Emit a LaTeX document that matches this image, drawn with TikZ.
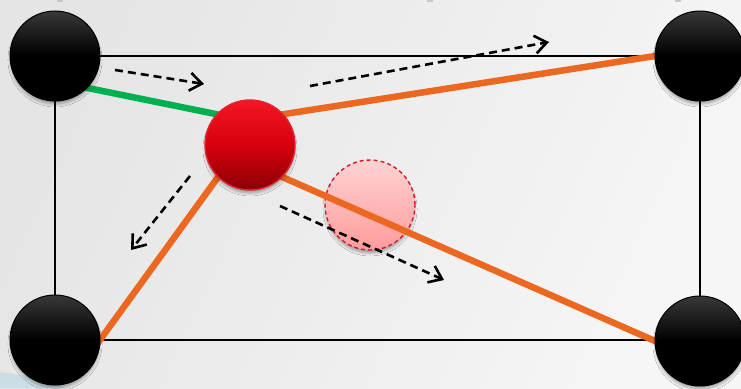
\documentclass[tikz,border=0pt]{standalone}
\usetikzlibrary{arrows.meta,shadows.blur}
\definecolor{orangeline}{RGB}{236,104,32}
\definecolor{greenline}{RGB}{0,176,80}
\definecolor{redtop}{RGB}{244,22,38}
\definecolor{redmid}{RGB}{214,0,12}
\definecolor{redbot}{RGB}{138,0,6}
\definecolor{redrim}{RGB}{226,34,48}
\definecolor{pinktop}{RGB}{255,210,210}
\definecolor{pinkbot}{RGB}{255,156,156}
\definecolor{pinkrim}{RGB}{208,28,44}
\definecolor{bgdark}{RGB}{229,229,229}
\definecolor{bglight}{RGB}{246,246,246}
\definecolor{smudge}{RGB}{200,222,230}
\begin{document}
\begin{tikzpicture}[x=1pt,y=-1pt,
  spot/.style={circle, minimum size=90pt, inner sep=0pt, outer sep=0pt},
  ball/.style={spot,
    blur shadow={shadow xshift=0pt, shadow yshift=-4pt, shadow blur radius=3pt, shadow opacity=35, shadow scale=0.98}},
  blackball/.style={ball, draw=black, line width=1pt, top color=black!78, bottom color=black, middle color=black},
  redball/.style={ball, draw=redrim, line width=1.4pt, top color=redtop, bottom color=redbot, middle color=redmid},
  ghostball/.style={ball, draw=pinkrim, line width=1.4pt, dash pattern=on 4pt off 3pt, top color=pinktop, bottom color=pinkbot},
  frame/.style={draw=black, line width=2pt},
  tie/.style={line width=6.5pt, shorten <=-5pt, shorten >=-5pt},
  move/.style={draw=black, line width=2.6pt, dash pattern=on 8pt off 5pt,
    -{Straight Barb[length=12pt,width=18pt,line width=2.6pt]}},
  tick/.style={fill=black!22, draw=none}
]
\useasboundingbox (0,0) rectangle (741,388);
\shade[left color=bgdark, right color=bglight, shading angle=65] (0,0) rectangle (741,388);
\fill[smudge, opacity=0.9] (0,372) .. controls (25,375) and (48,381) .. (66,388) -- (0,388) -- cycle;
\fill[tick] (57,0) rectangle (63,2);
\fill[tick] (427,0) rectangle (433,2);
\fill[tick] (675,0) rectangle (681,2);
\draw[frame] (55,56) rectangle (700,340);
\node[ghostball] (ghost) at (370,205) {};
% positions of the balls (drawn on top afterwards)
\node[spot] (tl) at (55,56) {};
\node[spot] (tr) at (700,56) {};
\node[spot] (bl) at (55,340) {};
\node[spot] (br) at (700,341) {};
\node[spot] (red) at (250,145) {};
\draw[tie, greenline] (tl.-45) -- (red.137);
\draw[tie, orangeline] (red.43) -- (tr.180);
\draw[tie, orangeline] (red.225) -- (bl.0);
\draw[tie, orangeline] (red.-45) -- (br.180);
\coordinate (m1s) at (115,70);
\coordinate (m1e) at (204,84);
\coordinate (m2s) at (310,86);
\coordinate (m2e) at (549,42);
\coordinate (m3s) at (190,176);
\coordinate (m3e) at (131,250);
\coordinate (m4s) at (280,206);
\coordinate (m4e) at (444,280);
\draw[move] (m1s) -- (m1e);
\draw[move] (m2s) -- (m2e);
\draw[move] (m3s) -- (m3e);
\draw[move] (m4s) -- (m4e);
\node[blackball] (tlball) at (tl) {};
\node[blackball] (trball) at (tr) {};
\node[blackball] (blball) at (bl) {};
\node[blackball] (brball) at (br) {};
\node[redball] (redball) at (red) {};
\end{tikzpicture}
\end{document}
